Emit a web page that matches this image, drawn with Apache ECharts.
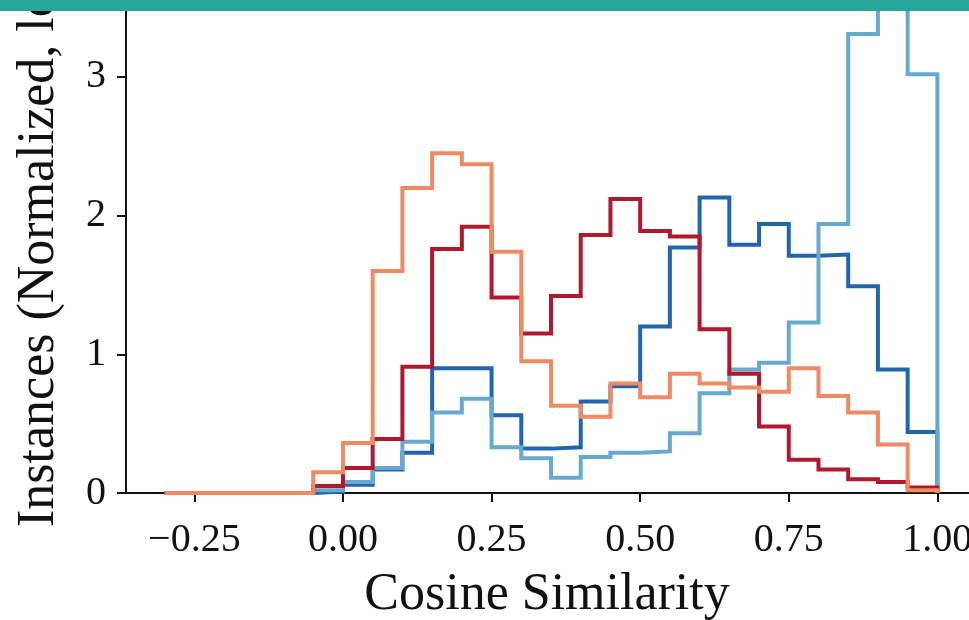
<!DOCTYPE html>
<html>
<head>
<meta charset="utf-8">
<script src="https://cdn.jsdelivr.net/npm/echarts@6/dist/echarts.min.js"></script>
<style>
html,body{margin:0;padding:0;background:#fff;}
#chart{width:969px;height:620px;}
</style>
</head>
<body>
<div id="chart"></div>
<script>
// Bin edges of the histograms (cosine similarity)
const binEdges = [-0.30, -0.25, -0.20, -0.15, -0.10, -0.05, 0.00, 0.05, 0.10, 0.15, 0.20, 0.25, 0.30,
  0.35, 0.40, 0.45, 0.50, 0.55, 0.60, 0.65, 0.70, 0.75, 0.80, 0.85, 0.90, 0.95, 1.00];

// Normalized counts per bin (26 bins)
const darkRedValues = [0, 0, 0, 0, 0, 0.05, 0.18, 0.39, 0.91, 1.76, 1.92, 1.41, 1.15,
  1.42, 1.86, 2.12, 1.89, 1.85, 1.18, 0.86, 0.48, 0.24, 0.17, 0.10, 0.08, 0.04];
const orangeValues = [0, 0, 0, 0, 0, 0.15, 0.36, 1.60, 2.20, 2.45, 2.37, 1.74, 0.95,
  0.63, 0.55, 0.79, 0.69, 0.86, 0.79, 0.76, 0.73, 0.90, 0.70, 0.58, 0.35, 0.02];
const darkBlueValues = [0, 0, 0, 0, 0, 0.01, 0.06, 0.17, 0.29, 0.90, 0.90, 0.56, 0.32,
  0.33, 0.66, 0.77, 1.20, 1.77, 2.13, 1.79, 1.94, 1.71, 1.72, 1.49, 0.89, 0.44];
const lightBlueValues = [0, 0, 0, 0, 0, 0.02, 0.08, 0.18, 0.37, 0.58, 0.68, 0.33, 0.25,
  0.11, 0.26, 0.29, 0.30, 0.43, 0.72, 0.89, 0.94, 1.23, 1.94, 3.31, 4.30, 3.02];

const xTickValues = [-0.25, 0.00, 0.25, 0.50, 0.75, 1.00];
const yTickValues = [0, 1, 2, 3];
const xAxisTitle = 'Cosine Similarity';
const yAxisTitle = 'Instances (Normalized, log)';

function stepData(values) {
  const d = values.map((v, i) => [binEdges[i], v]);
  d.push([binEdges[binEdges.length - 1], 0]);
  return d;
}

const FONT = '"Liberation Serif", "Times New Roman", serif';
const chart = echarts.init(document.getElementById('chart'), null, {renderer: 'canvas'});

function mkSeries(name, values, color) {
  return {
    name: name,
    type: 'line',
    step: 'end',
    data: stepData(values),
    showSymbol: false,
    symbol: 'none',
    lineStyle: {color: color, width: 4, join: 'miter', cap: 'butt'},
    itemStyle: {color: color},
    animation: false,
    z: 3
  };
}

chart.setOption({
  animation: false,
  backgroundColor: '#ffffff',
  grid: {left: 126, right: -7, top: 0, bottom: 127, containLabel: false, outerBoundsMode: 'none'},
  xAxis: {
    type: 'value',
    min: -0.365,
    max: 1.065,
    splitLine: {show: false},
    axisLine: {show: true, onZero: false, lineStyle: {color: '#111', width: 2}},
    axisTick: {show: true, customValues: xTickValues, length: 9, lineStyle: {color: '#111', width: 2}},
    axisLabel: {
      customValues: xTickValues,
      margin: 27,
      color: '#111',
      fontFamily: FONT,
      fontSize: 40,
      formatter: v => (v < 0 ? '\u2212' : '') + Math.abs(v).toFixed(2)
    }
  },
  yAxis: {
    type: 'value',
    min: 0,
    max: 3.555,
    splitLine: {show: false},
    axisLine: {show: true, onZero: false, lineStyle: {color: '#111', width: 2}},
    axisTick: {show: true, customValues: yTickValues, length: 9, lineStyle: {color: '#111', width: 2}},
    axisLabel: {
      customValues: yTickValues,
      margin: 20,
      color: '#111',
      fontFamily: FONT,
      fontSize: 40
    }
  },
  series: [
    mkSeries('dark blue', darkBlueValues, '#2166ac'),
    mkSeries('light blue', lightBlueValues, '#67a9cf'),
    mkSeries('dark red', darkRedValues, '#b2182b'),
    mkSeries('orange', orangeValues, '#ef8a62')
  ],
  graphic: [
    {
      type: 'text',
      x: 547,
      y: 595,
      style: {text: xAxisTitle, fill: '#111', font: '52px ' + FONT, align: 'center', verticalAlign: 'middle'},
      z: 10
    },
    {
      type: 'text',
      x: 39,
      y: 527,
      rotation: Math.PI / 2,
      style: {text: yAxisTitle, fill: '#111', font: '52px ' + FONT, align: 'left', verticalAlign: 'middle'},
      z: 10
    },
    {
      type: 'rect',
      shape: {x: 0, y: 0, width: 969, height: 11},
      style: {fill: '#27a797'},
      z: 20
    }
  ]
});
</script>
</body>
</html>
